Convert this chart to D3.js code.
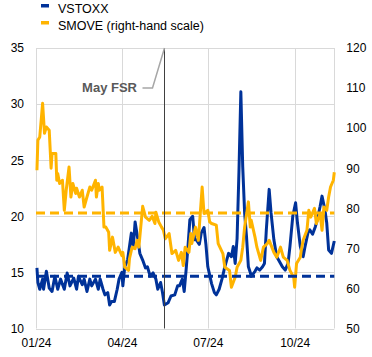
<!DOCTYPE html>
<html><head><meta charset="utf-8">
<script src="https://cdn.jsdelivr.net/npm/d3@7"></script>
<style>
html,body{margin:0;padding:0;background:#fff;}
svg{display:block;font-family:Arial,"Liberation Sans",sans-serif;}
</style></head>
<body>
<svg id="c" width="372" height="357"></svg>
<script>
const seriesNames = ["VSTOXX", "SMOVE (right-hand scale)"];
const xTickLabels = ["01/24", "04/24", "07/24", "10/24"];
const xTickDates = ["2024-01-01", "2024-04-01", "2024-07-01", "2024-10-01"];
const leftTicks = [10, 15, 20, 25, 30, 35];
const rightTicks = [50, 60, 70, 80, 90, 100, 110, 120];
const annotationLabel = "May FSR";
const annotationDate = "2024-05-16";
const vstoxxAverage = 14.65;
const smoveAverage = 78.8;

const vstoxxDates = ["2024-01-02","2024-01-03","2024-01-05","2024-01-08","2024-01-09","2024-01-12","2024-01-15","2024-01-18","2024-01-21","2024-01-24","2024-01-27","2024-01-31","2024-02-03","2024-02-06","2024-02-10","2024-02-13","2024-02-15","2024-02-19","2024-02-21","2024-02-24","2024-02-27","2024-02-29","2024-03-04","2024-03-07","2024-03-09","2024-03-12","2024-03-14","2024-03-17","2024-03-19","2024-03-21","2024-03-24","2024-03-27","2024-03-29","2024-04-01","2024-04-02","2024-04-04","2024-04-07","2024-04-09","2024-04-11","2024-04-13","2024-04-15","2024-04-18","2024-04-20","2024-04-23","2024-04-26","2024-04-28","2024-05-01","2024-05-04","2024-05-07","2024-05-09","2024-05-12","2024-05-14","2024-05-16","2024-05-20","2024-05-23","2024-05-27","2024-05-30","2024-06-01","2024-06-04","2024-06-06","2024-06-08","2024-06-10","2024-06-12","2024-06-15","2024-06-17","2024-06-19","2024-06-22","2024-06-24","2024-06-27","2024-06-29","2024-07-01","2024-07-05","2024-07-08","2024-07-10","2024-07-13","2024-07-16","2024-07-19","2024-07-21","2024-07-23","2024-07-26","2024-07-28","2024-07-30","2024-08-01","2024-08-03","2024-08-05","2024-08-07","2024-08-09","2024-08-11","2024-08-13","2024-08-15","2024-08-16","2024-08-20","2024-08-22","2024-08-25","2024-08-28","2024-08-30","2024-09-01","2024-09-04","2024-09-06","2024-09-09","2024-09-12","2024-09-14","2024-09-18","2024-09-21","2024-09-24","2024-09-26","2024-09-29","2024-10-02","2024-10-04","2024-10-07","2024-10-10","2024-10-12","2024-10-15","2024-10-17","2024-10-20","2024-10-23","2024-10-25","2024-10-28","2024-10-30","2024-11-02","2024-11-04","2024-11-06","2024-11-09","2024-11-12"];
const vstoxxValues = [15.4,14.1,13.5,14.4,13.5,15.1,13.6,13.3,14.65,13.5,14.4,13.5,14.95,13.8,14.5,13.5,14.65,13.9,14.4,13.3,14.4,13.8,14.4,13.5,14.4,13.5,13.0,13.2,12.1,12.4,12.4,13.5,14.4,15.0,13.8,15.5,16.1,17.3,18.5,17.2,19.5,17.9,16.7,16.1,15.4,15.5,14.65,14.95,14.4,13.5,14.1,13.2,12.1,12.3,12.9,13.0,13.8,13.8,14.4,13.3,15.2,17.3,19.7,20.0,17.9,17.9,17.5,18.5,19.0,17.5,15.5,14.0,13.2,13.0,13.5,14.4,15.5,16.1,16.7,16.4,17.3,15.8,18.0,24.0,31.1,24.4,20.3,18.2,15.5,15.0,14.65,15.1,15.4,15.2,15.5,15.8,18.8,22.4,20.3,17.9,16.4,16.1,15.5,15.2,15.8,17.3,20.0,21.2,19.4,17.3,16.4,17.3,18.5,18.8,18.4,19.1,19.7,20.9,21.8,20.6,19.4,17.0,16.7,17.8];

const smoveDates = ["2024-01-02","2024-01-03","2024-01-05","2024-01-08","2024-01-10","2024-01-12","2024-01-15","2024-01-17","2024-01-18","2024-01-22","2024-01-23","2024-01-24","2024-01-26","2024-01-29","2024-01-31","2024-02-02","2024-02-05","2024-02-07","2024-02-09","2024-02-12","2024-02-13","2024-02-16","2024-02-19","2024-02-21","2024-02-23","2024-02-27","2024-02-29","2024-03-04","2024-03-05","2024-03-07","2024-03-08","2024-03-11","2024-03-13","2024-03-15","2024-03-18","2024-03-19","2024-03-22","2024-03-25","2024-03-28","2024-04-01","2024-04-02","2024-04-04","2024-04-08","2024-04-09","2024-04-11","2024-04-12","2024-04-15","2024-04-17","2024-04-19","2024-04-23","2024-04-25","2024-04-26","2024-04-30","2024-05-03","2024-05-06","2024-05-07","2024-05-10","2024-05-13","2024-05-15","2024-05-17","2024-05-21","2024-05-24","2024-05-28","2024-05-31","2024-06-03","2024-06-05","2024-06-07","2024-06-11","2024-06-13","2024-06-14","2024-06-18","2024-06-21","2024-06-25","2024-06-27","2024-07-01","2024-07-03","2024-07-05","2024-07-10","2024-07-12","2024-07-17","2024-07-19","2024-07-24","2024-07-26","2024-07-30","2024-08-01","2024-08-05","2024-08-07","2024-08-09","2024-08-13","2024-08-15","2024-08-16","2024-08-20","2024-08-22","2024-08-26","2024-08-29","2024-09-02","2024-09-04","2024-09-09","2024-09-12","2024-09-16","2024-09-19","2024-09-23","2024-09-26","2024-09-30","2024-10-01","2024-10-03","2024-10-07","2024-10-08","2024-10-10","2024-10-14","2024-10-16","2024-10-18","2024-10-22","2024-10-24","2024-10-28","2024-10-30","2024-11-01","2024-11-04","2024-11-06","2024-11-08","2024-11-11","2024-11-12"];
const smoveValues = [89.5,97,97.8,106.2,98.7,100.3,99.5,90,93.7,93.7,87,88.7,86.2,87,79.5,84.5,90.3,82.8,86.2,83.7,85,82.8,84.5,80.3,82,85.3,84.5,87,82.8,86.2,84.5,85.3,75.3,75.3,74,69.5,72.8,69,70.3,68.2,69,65.3,64.5,67.4,69.5,70.3,69.9,72,70.3,80.5,78.7,77.8,77,78,76.2,79,76.6,75.3,74.5,72.4,73.7,68.7,69.5,67,69,65.7,70.3,69,73.7,71.2,75.3,72,85.3,78.7,79.5,76.6,76.2,75.8,71.2,68.7,65.3,64.5,60.3,62.8,65.3,67,70.3,75.3,81.6,75.3,77,72.8,70.3,67,70.3,71.2,72,69,67.8,70.3,67.8,67,64.5,62.8,60.3,66.2,67.8,69.5,72,74.5,79.5,77.8,80,76.2,78.7,74.5,80.3,79.5,82.8,85.3,87,89];

const BLUE = "#003299", YELLOW = "#FFB400", GRID = "#d9d9d9";
const parse = d3.utcParse("%Y-%m-%d");
const L = 36, R = 334.3, T = 48, B = 328.5;

const x = d3.scaleUtc().domain([parse("2024-01-01"), parse("2024-11-12")]).range([L, R]);
const yL = d3.scaleLinear().domain([10, 35]).range([B, T]);
const yR = d3.scaleLinear().domain([50, 120]).range([B, T]);

const svg = d3.select("#c");
svg.append("rect").attr("width", 372).attr("height", 357).attr("fill", "#fff");

// gridlines (horizontal from left axis)
svg.append("g").selectAll("line").data(leftTicks).join("line")
  .attr("x1", L).attr("x2", R)
  .attr("y1", d => Math.round(yL(d)) + 0.5).attr("y2", d => Math.round(yL(d)) + 0.5)
  .attr("stroke", GRID).attr("stroke-width", 1);
// vertical gridlines
const vx = xTickDates.map(parse).map(d => x(d)).concat([R]);
svg.append("g").selectAll("line").data(vx).join("line")
  .attr("x1", d => Math.round(d) + 0.5).attr("x2", d => Math.round(d) + 0.5)
  .attr("y1", T).attr("y2", B)
  .attr("stroke", GRID).attr("stroke-width", 1);

// axes
const axL = svg.append("g").attr("transform", `translate(${L},0)`)
  .call(d3.axisLeft(yL).tickValues(leftTicks).tickSize(0).tickPadding(12));
const axR = svg.append("g").attr("transform", `translate(${R},0)`)
  .call(d3.axisRight(yR).tickValues(rightTicks).tickSize(0).tickPadding(12));
const axB = svg.append("g").attr("transform", `translate(0,${B})`)
  .call(d3.axisBottom(x).tickValues(xTickDates.map(parse)).tickFormat((d, i) => xTickLabels[i]).tickSize(0).tickPadding(10));
[axL, axR, axB].forEach(a => {
  a.select(".domain").remove();
  a.selectAll("text").attr("font-size", 12).attr("fill", "#000").attr("font-family", "Arial, 'Liberation Sans', sans-serif");
});
axB.selectAll("text").attr("dy", "0.71em");

// series lines
const vData = vstoxxDates.map((d, i) => ({ d: parse(d), v: vstoxxValues[i] }));
const sData = smoveDates.map((d, i) => ({ d: parse(d), v: smoveValues[i] }));

svg.append("path").datum(vData)
  .attr("d", d3.line().x(p => x(p.d)).y(p => yL(p.v)))
  .attr("fill", "none").attr("stroke", BLUE).attr("stroke-width", 3).attr("stroke-linejoin", "round");
svg.append("path").datum(sData)
  .attr("d", d3.line().x(p => x(p.d)).y(p => yR(p.v)))
  .attr("fill", "none").attr("stroke", YELLOW).attr("stroke-width", 3).attr("stroke-linejoin", "round");

// averages
svg.append("line").attr("x1", L).attr("x2", R)
  .attr("y1", yR(smoveAverage)).attr("y2", yR(smoveAverage))
  .attr("stroke", YELLOW).attr("stroke-width", 3).attr("stroke-dasharray", "9,5");
svg.append("line").attr("x1", L).attr("x2", R)
  .attr("y1", yL(vstoxxAverage)).attr("y2", yL(vstoxxAverage))
  .attr("stroke", BLUE).attr("stroke-width", 3).attr("stroke-dasharray", "9,5");

// May FSR marker
const ax = Math.round(x(parse(annotationDate))) + 0.5;
svg.append("line").attr("x1", ax).attr("x2", ax).attr("y1", T).attr("y2", B)
  .attr("stroke", "#404040").attr("stroke-width", 1);
svg.append("polyline")
  .attr("points", `${ax - 22},88 ${ax - 12},88 ${ax},${T}`)
  .attr("fill", "none").attr("stroke", "#a6a6a6").attr("stroke-width", 1.5);
svg.append("text").attr("x", ax - 27.5).attr("y", 92)
  .attr("text-anchor", "end").attr("font-size", 13).attr("font-weight", "bold")
  .attr("fill", "#595959").text(annotationLabel);

// legend
const lg = svg.append("g");
[BLUE, YELLOW].forEach((c, i) => {
  lg.append("rect").attr("x", 41).attr("y", 4 + i * 17).attr("width", 8).attr("height", 3.5).attr("fill", c);
  lg.append("text").attr("x", 58).attr("y", 13.3 + i * 17).attr("font-size", 12.5).attr("fill", "#000").text(seriesNames[i]);
});
</script>
</body></html>
